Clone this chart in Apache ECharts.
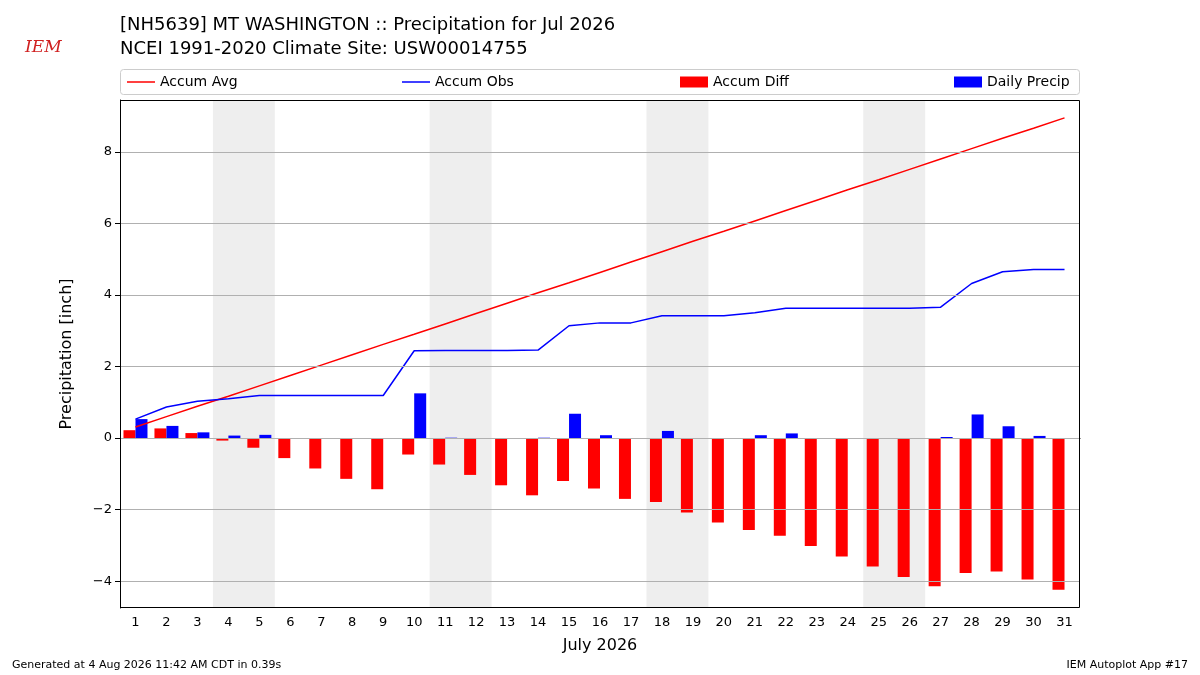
<!DOCTYPE html>
<html><head><meta charset="utf-8">
<script src="https://cdn.jsdelivr.net/npm/echarts@6/dist/echarts.min.js"></script>
<style>body{margin:0}#chart{width:1200px;height:675px}</style></head>
<body><div id="chart"></div>
<script>
var days=[];for(var i=1;i<=31;i++)days.push(String(i));
// accumulated climatology average
var accumAvg=[0.31,0.60,0.89,1.17,1.46,1.75,2.04,2.33,2.62,2.90,3.19,3.48,3.77,4.06,4.34,4.63,4.92,5.21,5.50,5.78,6.07,6.36,6.65,6.94,7.22,7.51,7.80,8.09,8.38,8.66,8.95];
// accumulated observed
var accumObs=[0.53,0.87,1.03,1.10,1.19,1.19,1.19,1.19,1.19,2.44,2.45,2.45,2.45,2.46,3.14,3.22,3.22,3.42,3.42,3.42,3.50,3.63,3.63,3.63,3.63,3.63,3.66,4.32,4.65,4.71,4.71];
var daily=[0.53,0.34,0.16,0.07,0.09,0,0,0,0,1.25,0.01,0,0,0.01,0.68,0.08,0,0.20,0,0,0.08,0.13,0,0,0,0,0.03,0.66,0.33,0.06,0];
var diff=accumObs.map(function(v,i){return +(v-accumAvg[i]).toFixed(2);});
var yTicks=[-4,-2,0,2,4,6,8];
var font='DejaVu Sans';
var lineIcon='path://M0,5L28,5L28,6.5L0,6.5Z';
function leg(name,x,icon){
  return {left:x,top:70,itemWidth:28,itemHeight:11,itemGap:10,textStyle:{fontSize:14,color:'#000'},data:[{name:name,icon:icon}]};
}
var chart=echarts.init(document.getElementById('chart'));
chart.setOption({
  animation:false,
  textStyle:{fontFamily:font},
  title:[
    {text:'[NH5639] MT WASHINGTON :: Precipitation for Jul 2026\nNCEI 1991-2020 Climate Site: USW00014755',left:115,top:8,
     textStyle:{fontSize:18,fontWeight:'normal',color:'#000',lineHeight:24,fontFamily:font}},
    {text:'IEM',left:20,top:34,textStyle:{fontSize:17,fontStyle:'italic',color:'#d02020',fontWeight:'normal',fontFamily:'DejaVu Serif'}},
    {text:'Generated at 4 Aug 2026 11:42 AM CDT in 0.39s',left:7,top:655,textStyle:{fontSize:11,fontWeight:'normal',color:'#000',fontFamily:font}},
    {text:'IEM Autoplot App #17',right:7,top:655,textStyle:{fontSize:11,fontWeight:'normal',color:'#000',fontFamily:font}}
  ],
  graphic:[
    {type:'rect',shape:{x:120.5,y:69.5,width:959,height:25,r:3},style:{fill:'#fff',stroke:'#ccc',lineWidth:1},z:-1},
    {type:'rect',shape:{x:120.5,y:100.5,width:959,height:507},style:{fill:'none',stroke:'#000',lineWidth:1},z:100,silent:true}
  ],
  legend:[leg('Accum Avg',122,lineIcon),leg('Accum Obs',397,lineIcon),leg('Accum Diff',675,'rect'),leg('Daily Precip',949,'rect')],
  grid:{left:120,right:120,top:100,bottom:67},
  xAxis:[
    {type:'category',data:days,boundaryGap:true,name:'July 2026',nameLocation:'middle',nameGap:30,
     nameTextStyle:{fontSize:16,color:'#000'},
     axisLine:{lineStyle:{color:'#000'}},axisTick:{alignWithLabel:true,lineStyle:{color:'#000'}},
     axisLabel:{color:'#000',fontSize:13}},
    {type:'value',min:0.5,max:31.5,show:false}
  ],
  yAxis:{type:'value',min:-4.75,max:9.45,name:'Precipitation [inch]',nameLocation:'middle',nameGap:45,
    nameTextStyle:{fontSize:16,color:'#000'},
    axisLine:{show:true,lineStyle:{color:'#000'}},
    axisTick:{show:true,customValues:yTicks,lineStyle:{color:'#000'}},
    axisLabel:{color:'#000',fontSize:13,customValues:yTicks,formatter:function(v){return String(v).replace('-','\u2212');}},
    splitLine:{show:false}},
  series:[
    {type:'line',xAxisIndex:1,data:[],silent:true,
     markArea:{silent:true,itemStyle:{color:'rgba(200,200,200,0.3)'},
       data:[[{xAxis:3.5},{xAxis:5.5}],[{xAxis:10.5},{xAxis:12.5}],[{xAxis:17.5},{xAxis:19.5}],[{xAxis:24.5},{xAxis:26.5}]]},
     markLine:{silent:true,symbol:'none',label:{show:false},lineStyle:{color:'#b0b0b0',type:'solid',width:1},
       data:yTicks.map(function(v){return {yAxis:v};})}},
    {name:'Accum Diff',type:'bar',data:diff,itemStyle:{color:'#ff0000'},barWidth:12,barGap:'0%'},
    {name:'Daily Precip',type:'bar',data:daily,itemStyle:{color:'#0000ff'},barWidth:12},
    {name:'Accum Avg',type:'line',data:accumAvg,symbol:'none',lineStyle:{color:'#ff0000',width:1.5},itemStyle:{color:'#ff0000'}},
    {name:'Accum Obs',type:'line',data:accumObs,symbol:'none',lineStyle:{color:'#0000ff',width:1.5},itemStyle:{color:'#0000ff'}}
  ]
});
</script></body></html>
